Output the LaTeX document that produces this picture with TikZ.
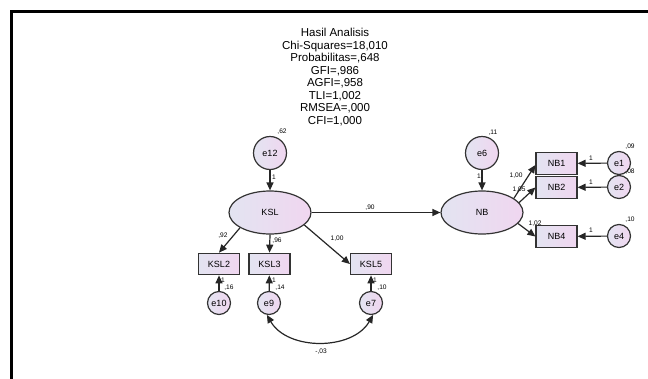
\documentclass[tikz,border=0pt]{standalone}
\usepackage{fontspec}
\setmainfont{Liberation Sans}
\usetikzlibrary{arrows.meta,shapes.geometric}
\definecolor{cA}{HTML}{E3E4F1}
\definecolor{cB}{HTML}{F0D6F0}
\definecolor{edge}{HTML}{333333}
\begin{document}
\begin{tikzpicture}[x=1pt,y=-1pt,
  nodefill/.style={draw=edge, line width=1.2pt, left color=cA, right color=cB, inner sep=0pt,
     font=\fontsize{9}{10}\selectfont},
  latent/.style={nodefill, ellipse, minimum width=82pt, minimum height=43pt},
  bigerr/.style={nodefill, circle, minimum size=33pt},
  err/.style={nodefill, circle, minimum size=23pt},
  obs/.style={nodefill, rectangle, minimum width=41pt, minimum height=21.5pt},
  lab/.style={font=\fontsize{6.6}{7}\selectfont, inner sep=0pt},
  arr/.style={-{Triangle[length=8pt,width=7pt]}, line width=1.2pt, draw=black!85},
  darr/.style={{Triangle[length=8pt,width=7pt]}-{Triangle[length=8pt,width=7pt]}, line width=1.2pt, draw=black!85}]
\useasboundingbox (0,0) rectangle (648,378);
\draw[line width=2.7pt] (11.5,390) -- (11.5,11.5) -- (660,11.5);

\node[align=center, font=\fontsize{11.5}{12.45}\selectfont] (title) at (335,77)
 {Hasil Analisis\\Chi-Squares=18,010\\Probabilitas=,648\\GFI=,986\\AGFI=,958\\TLI=1,002\\RMSEA=,000\\CFI=1,000};

% latent and errors
\node[latent] (KSL) at (270,212.5) {KSL};
\node[latent] (NB) at (482,212.5) {NB};
\node[bigerr] (e12) at (270,153) {e12};
\node[bigerr] (e6) at (482,153) {e6};

% indicators
\node[obs] (KSL2) at (219,264) {KSL2};
\node[obs] (KSL3) at (269.5,264) {KSL3};
\node[obs] (KSL5) at (371,264) {KSL5};
\node[obs] (NB1) at (556.5,163.5) {NB1};
\node[obs] (NB2) at (556.5,187.5) {NB2};
\node[obs] (NB4) at (556.5,236.5) {NB4};

\node[err] (e10) at (219,303) {e10};
\node[err] (e9) at (269,303) {e9};
\node[err] (e7) at (371,303) {e7};
\node[err] (e1) at (619,163) {e1};
\node[err] (e2) at (619,187) {e2};
\node[err] (e4) at (619,236) {e4};

% paths
\draw[arr] (e12) -- (KSL);
\draw[arr] (e6) -- (NB);
\draw[arr] (KSL.east) -- (NB.west);
\draw[arr] (KSL.-153) -- (KSL2.north);
\draw[arr] (KSL.south) -- (KSL3.north);
\draw[arr] (KSL.-20) -- (KSL5.west);
\draw[arr] (NB.24) -- ([yshift=-1.5pt]NB1.west);
\draw[arr] (NB.15) -- (NB2.west);
\draw[arr] (NB.-17) -- (NB4.west);
\draw[arr] (e10) -- (KSL2);
\draw[arr] (e9) -- (KSL3);
\draw[arr] (e7) -- (KSL5);
\draw[arr] (e1) -- (NB1);
\draw[arr] (e2) -- (NB2);
\draw[arr] (e4) -- (NB4);
\draw[darr] (e9.-100) to[out=-60,in=-120] (e7.-80);

% labels
\node[lab] (l62) at (282,132) {,62};
\node[lab] (l11) at (493,133) {,11};
\node[lab] (l09) at (630,147) {,09};
\node[lab] (l08) at (630,172) {,08};
\node[lab] (l10a) at (630,220) {,10};
\node[lab] (l1a) at (274,177) {1};
\node[lab] (l1b) at (479,176) {1};
\node[lab] (l90) at (370,208) {,90};
\node[lab] (l92) at (223,236) {,92};
\node[lab] (l96) at (277,241) {,96};
\node[lab] (l100) at (337,239) {1,00};
\node[lab] (lNB1) at (516,176) {1,00};
\node[lab] (lNB2) at (519,190) {1,05};
\node[lab] (lNB4) at (535,224) {1,02};
\node[lab] (le1) at (591,158) {1};
\node[lab] (le2) at (591,182) {1};
\node[lab] (le4) at (591,230) {1};
\node[lab] (le10) at (223,280) {1};
\node[lab] (le9) at (274,280) {1};
\node[lab] (le7) at (375,280) {1};
\node[lab] (l16) at (229,288) {,16};
\node[lab] (l14) at (280,288) {,14};
\node[lab] (l10b) at (382,288) {,10};
\node[lab] (l03) at (321,352) {-,03};
\end{tikzpicture}
\end{document}
